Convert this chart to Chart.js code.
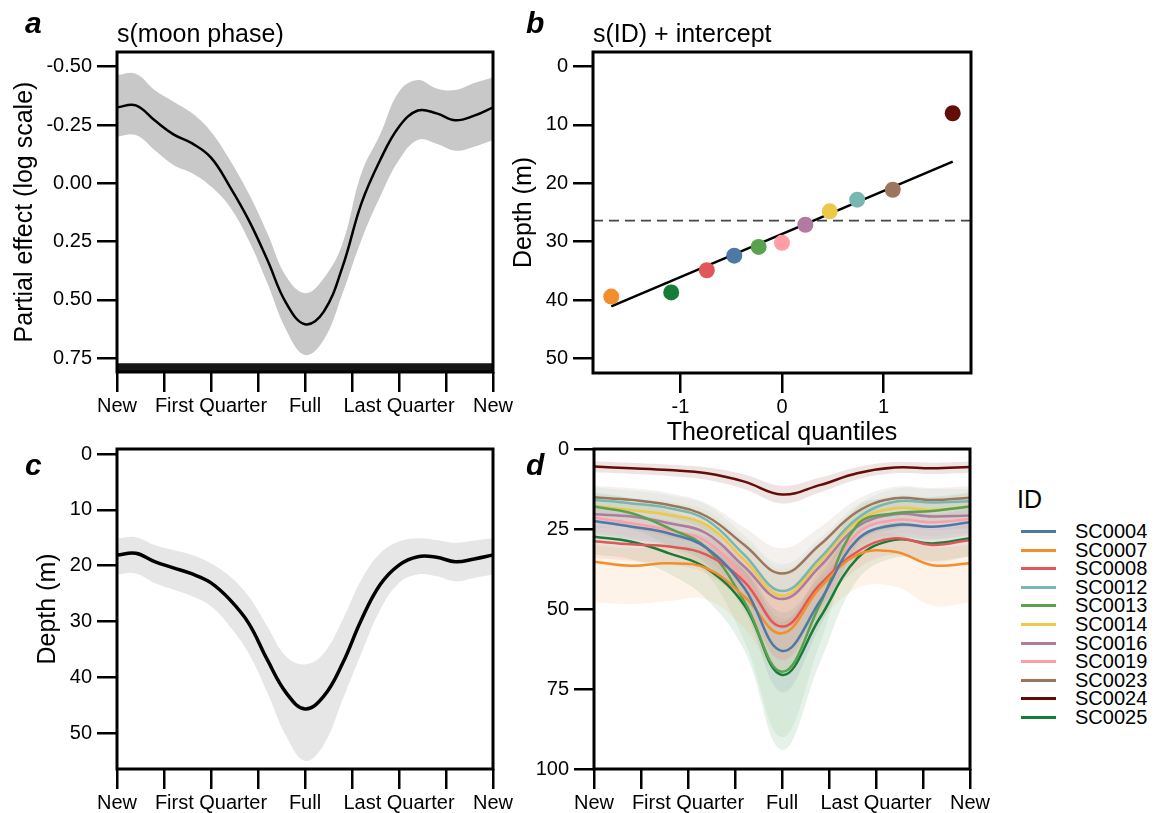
<!DOCTYPE html>
<html>
<head>
<meta charset="utf-8">
<script src="https://cdn.jsdelivr.net/npm/chart.js@4.4.1/dist/chart.umd.min.js"></script>
<style>
  body { margin: 0; background: #fff; }
  #wrap { position: relative; width: 1165px; height: 813px; font-family: "Liberation Sans", Arial, sans-serif; color: #000; }
  canvas { position: absolute; }
  .title { position: absolute; font-size: 25px; line-height: 30px; white-space: nowrap; }
  .letter { position: absolute; font-size: 30px; line-height: 30px; font-weight: bold; font-style: italic; }
  #legend { position: absolute; left: 1017px; top: 484px; }
  #legend .head { font-size: 25px; line-height: 30px; margin-bottom: 8px; }
  #legend .row { position: relative; height: 18.6px; font-size: 20px; line-height: 18.6px; }
  #legend .row span.sw { position: absolute; left: 4px; top: 8px; width: 35px; height: 3px; }
  #legend .row span.tx { position: absolute; left: 58px; top: 0; }
</style>
</head>
<body>
<div id="wrap">
  <canvas id="chartA" width="520" height="420" style="left:0;top:0"></canvas>
  <canvas id="chartB" width="500" height="450" style="left:500px;top:0"></canvas>
  <canvas id="chartC" width="520" height="393" style="left:0;top:420px"></canvas>
  <canvas id="chartD" width="500" height="393" style="left:500px;top:420px"></canvas>
  <div class="letter" style="left:25px;top:8px">a</div>
  <div class="letter" style="left:526px;top:8px">b</div>
  <div class="letter" style="left:25px;top:450px">c</div>
  <div class="letter" style="left:526px;top:450px">d</div>
  <div class="title" style="left:117px;top:18px">s(moon phase)</div>
  <div class="title" style="left:593px;top:18px">s(ID) + intercept</div>
  <div id="legend"><div class="head">ID</div></div>
</div>
<script>
// moon phase grid (0 = new, 0.5 = full, 1 = new)
const phase = [0, 0.05, 0.1, 0.15, 0.2, 0.25, 0.3, 0.35, 0.4, 0.45, 0.5,
               0.55, 0.6, 0.65, 0.7, 0.75, 0.8, 0.85, 0.9, 0.95, 1];
const phaseTicks = [0, 0.125, 0.25, 0.375, 0.5, 0.625, 0.75, 0.875, 1];
const phaseTickLabels = ['New', '', 'First Quarter', '', 'Full', '', 'Last Quarter', '', 'New'];

// panel a: partial effect of moon phase (log scale)
const effectFit = [-0.326, -0.334, -0.27, -0.21, -0.171, -0.11, 0.014, 0.157, 0.329, 0.514, 0.604,
                   0.55, 0.357, 0.086, -0.10, -0.243, -0.312, -0.30, -0.27, -0.29, -0.326];
const effectLo = [-0.464, -0.47, -0.40, -0.35, -0.30, -0.221, -0.10, 0.043, 0.214, 0.40, 0.471,
                  0.407, 0.257, -0.043, -0.21, -0.393, -0.443, -0.407, -0.40, -0.43, -0.454];
const effectHi = [-0.20, -0.207, -0.143, -0.079, -0.043, 0.014, 0.10, 0.243, 0.429, 0.629, 0.736,
                  0.671, 0.471, 0.243, 0.057, -0.10, -0.186, -0.17, -0.14, -0.157, -0.186];
const rugPhase = [0, 1];
const rugTop = [0.772, 0.772];
const rugBottom = [0.81, 0.81];

// panel b: random intercepts vs theoretical quantiles
const qqTheoretical = [-1.68, -1.09, -0.74, -0.47, -0.23, 0, 0.23, 0.47, 0.74, 1.09, 1.68];
const qqDepth = [39.4, 38.7, 34.9, 32.4, 30.9, 30.2, 27.1, 24.8, 22.8, 21.1, 8.0];
const qqIds = ['SC0007', 'SC0025', 'SC0008', 'SC0004', 'SC0013', 'SC0019', 'SC0016', 'SC0014', 'SC0012', 'SC0023', 'SC0024'];
const qqLineX = [-1.68, 1.68];
const qqLineY = [41.1, 16.3];
const interceptX = [-1.86, 1.86];
const interceptDepth = [26.4, 26.4];

// panel c: population depth
const depthFit = [18.1, 17.8, 19.3, 20.4, 21.5, 23.1, 26.1, 30.3, 36.9, 42.8, 45.7,
                  43.4, 37.5, 29.7, 23.4, 19.9, 18.4, 18.5, 19.3, 18.8, 18.1];
const depthLo = [15.1, 14.9, 16.3, 17.2, 18.1, 19.6, 21.9, 25.5, 30.9, 36.3, 37.7,
                 35.7, 29.7, 22.5, 17.8, 15.7, 15.1, 15.4, 15.9, 15.5, 15.1];
const depthHi = [21.6, 21.4, 23.1, 24.3, 25.5, 27.3, 30.9, 35.7, 42.8, 50.6, 55.0,
                 52.1, 44.0, 35.7, 27.9, 23.1, 21.6, 21.9, 22.8, 22.2, 21.6];

// panel d: individual depth curves
const ids = ['SC0004', 'SC0007', 'SC0008', 'SC0012', 'SC0013', 'SC0014', 'SC0016', 'SC0019', 'SC0023', 'SC0024', 'SC0025'];
const colors = ['#4e79a7', '#f28e2b', '#e15759', '#76b7b2', '#59a14f', '#edc948', '#b07aa1', '#ff9da7', '#9c755f', '#640d06', '#177d36'];
const phaseD = [0, 0.1, 0.2, 0.3, 0.4, 0.5, 0.6, 0.7, 0.8, 0.9, 1];
const fitById = [
  [22.5, 24.3, 26.4, 31.0, 43.5, 63.1, 47.7, 28.4, 23.8, 24.3, 22.9], // SC0004
  [35.2, 36.5, 35.7, 37.3, 46.1, 57.6, 43.5, 33.1, 32.1, 36.3, 35.7], // SC0007
  [28.8, 29.8, 30.5, 33.1, 41.5, 55.5, 42.5, 32.1, 27.9, 30.0, 28.4], // SC0008
  [15.9, 17.0, 18.5, 22.2, 33.1, 44.4, 34.2, 21.7, 16.5, 16.7, 16.3], // SC0012
  [18.0, 20.1, 24.8, 31.0, 47.7, 69.6, 48.8, 23.8, 20.1, 19.4, 18.0], // SC0013
  [17.8, 19.1, 20.6, 23.8, 34.7, 45.8, 35.2, 22.7, 18.5, 19.1, 17.8], // SC0014
  [20.4, 21.1, 23.2, 26.4, 36.8, 46.9, 36.8, 24.3, 20.4, 21.1, 20.8], // SC0016
  [21.5, 23.2, 25.3, 29.0, 40.4, 55.5, 43.5, 26.4, 22.2, 22.9, 21.9], // SC0019
  [15.1, 15.9, 17.5, 21.1, 30.0, 38.9, 30.0, 19.6, 15.4, 15.9, 15.2], // SC0023
  [5.5, 6.0, 6.6, 7.6, 10.2, 14.2, 11.3, 7.6, 5.8, 6.0, 5.6],         // SC0024
  [27.4, 29.0, 32.6, 37.3, 48.8, 70.6, 52.9, 34.2, 28.4, 29.5, 27.9]  // SC0025
];
const loById = [
  [18.5, 20.3, 22.4, 26.0, 36.5, 51.0, 39.7, 23.4, 19.8, 20.3, 18.9],
  [30.0, 31.0, 30.5, 31.5, 38.0, 46.0, 35.0, 27.5, 26.5, 30.5, 30.0],
  [24.0, 25.0, 25.5, 27.5, 34.0, 45.0, 35.0, 27.0, 23.0, 25.0, 23.5],
  [12.0, 13.0, 14.5, 17.5, 27.0, 36.0, 28.0, 17.5, 12.5, 12.5, 12.5],
  [13.5, 15.5, 19.5, 24.0, 38.0, 54.0, 38.0, 18.0, 15.5, 15.0, 13.5],
  [14.0, 15.3, 16.5, 19.3, 28.5, 37.5, 29.0, 18.5, 14.5, 15.0, 14.0],
  [16.5, 17.2, 19.0, 22.0, 30.5, 38.5, 30.5, 20.0, 16.5, 17.0, 16.8],
  [17.3, 19.0, 21.0, 24.0, 33.5, 45.5, 35.5, 21.8, 18.0, 18.7, 17.7],
  [11.5, 12.3, 13.8, 17.0, 24.5, 31.0, 24.5, 15.8, 11.8, 12.2, 11.6],
  [3.8, 4.3, 4.9, 5.7, 8.0, 11.5, 9.0, 5.7, 4.1, 4.3, 3.9],
  [22.0, 23.5, 26.5, 30.0, 38.0, 53.0, 41.0, 28.0, 23.0, 24.0, 22.5]
];
const hiById = [
  [26.5, 28.3, 30.4, 36.0, 50.5, 76.0, 55.7, 33.4, 27.8, 28.3, 26.9],
  [48.0, 48.5, 47.5, 47.0, 56.0, 70.0, 54.0, 43.5, 43.0, 49.0, 48.0],
  [34.0, 35.0, 36.0, 39.0, 49.0, 66.0, 50.0, 37.5, 33.0, 35.5, 33.5],
  [20.0, 21.0, 22.5, 27.0, 39.0, 53.0, 40.5, 26.0, 20.5, 21.0, 20.0],
  [23.0, 25.0, 30.5, 39.0, 60.0, 90.0, 61.0, 30.0, 25.0, 24.0, 22.5],
  [21.8, 23.0, 24.8, 28.5, 41.0, 54.5, 41.5, 27.0, 22.5, 23.2, 21.8],
  [24.5, 25.0, 27.5, 31.0, 43.5, 56.0, 43.5, 29.0, 24.5, 25.2, 24.8],
  [25.8, 27.5, 29.8, 34.3, 47.5, 66.0, 51.5, 31.2, 26.5, 27.2, 26.2],
  [18.8, 19.5, 21.3, 25.5, 35.8, 47.0, 35.8, 23.5, 19.0, 19.6, 18.9],
  [7.3, 7.8, 8.4, 9.6, 12.5, 17.0, 13.6, 9.5, 7.6, 7.8, 7.4],
  [33.0, 34.5, 39.0, 47.0, 63.0, 94.0, 67.0, 41.0, 34.0, 35.0, 33.5]
];

Chart.defaults.font.family = '"Liberation Sans", Arial, sans-serif';
Chart.defaults.color = '#000';

const xy = (xs, ys) => xs.map((x, i) => ({ x: x, y: ys[i] }));

const boxPlugin = {
  id: 'box',
  afterDatasetsDraw(chart) {
    const { ctx, chartArea: a } = chart;
    ctx.save();
    ctx.strokeStyle = '#000';
    ctx.lineWidth = 3;
    ctx.strokeRect(a.left, a.top, a.right - a.left, a.bottom - a.top);
    ctx.restore();
  }
};

const tickGrid = { drawOnChartArea: false, drawTicks: true, tickLength: 20, color: '#000', lineWidth: 2.5 };

function phaseAxis(height) {
  return {
    type: 'linear', min: 0, max: 1,
    border: { display: false },
    grid: tickGrid,
    afterBuildTicks: s => { s.ticks = phaseTicks.map(v => ({ value: v })); },
    afterFit: s => { s.height = height; },
    ticks: { autoSkip: false, maxRotation: 0, padding: 2, font: { size: 20 },
             callback: (v, i) => phaseTickLabels[i] }
  };
}

function depthAxis(min, max, step, width, title, titlePad, fmt) {
  return {
    type: 'linear', min: min, max: max, reverse: true,
    border: { display: false },
    grid: tickGrid,
    afterFit: s => { s.width = width; },
    ticks: { stepSize: step, includeBounds: false, padding: 5, font: { size: 20 },
             callback: fmt || (v => v) },
    title: { display: !!title, text: title, font: { size: 25 }, padding: { top: titlePad, bottom: 0 } }
  };
}

function baseOptions(padding, scales, tension) {
  return {
    responsive: false, animation: false, events: [],
    layout: { padding: padding },
    plugins: { legend: { display: false }, tooltip: { enabled: false }, filler: { drawTime: 'beforeDatasetsDraw' } },
    elements: { point: { radius: 0 }, line: { tension: tension } },
    scales: scales
  };
}

// ---- panel a
new Chart(document.getElementById('chartA'), {
  type: 'line',
  data: { datasets: [
    { data: xy(phase, effectFit), borderColor: '#000', borderWidth: 2.5, fill: false },
    { data: xy(phase, effectLo), borderWidth: 0, fill: false },
    { data: xy(phase, effectHi), borderWidth: 0, fill: '-1', backgroundColor: '#c8c8c8' },
    { data: xy(rugPhase, rugTop), borderWidth: 0, fill: false, tension: 0 },
    { data: xy(rugPhase, rugBottom), borderWidth: 0, fill: '-1', backgroundColor: '#151515', tension: 0 }
  ] },
  options: baseOptions({ top: 52, right: 27, left: 0, bottom: 0 }, {
    x: phaseAxis(48),
    y: depthAxis(-0.563, 0.809, 0.25, 117, 'Partial effect (log scale)', 10, v => v.toFixed(2))
  }, 0.4),
  plugins: [boxPlugin]
});

// ---- panel b
const bX = {
  type: 'linear', min: -1.86, max: 1.86,
  border: { display: false },
  grid: tickGrid,
  afterFit: s => { s.height = 77; },
  ticks: { stepSize: 1, includeBounds: false, padding: 2, font: { size: 20 } },
  title: { display: true, text: 'Theoretical quantiles', font: { size: 25 }, padding: { top: 0, bottom: 2 } }
};
new Chart(document.getElementById('chartB'), {
  type: 'scatter',
  data: { datasets: [
    { data: xy(qqTheoretical, qqDepth), pointRadius: 8, borderWidth: 0,
      backgroundColor: qqIds.map(id => colors[ids.indexOf(id)]) },
    { type: 'line', data: xy(qqLineX, qqLineY), borderColor: '#000', borderWidth: 2.5, pointRadius: 0 },
    { type: 'line', data: xy(interceptX, interceptDepth), borderColor: '#444', borderWidth: 1.6,
      borderDash: [10, 6], pointRadius: 0 }
  ] },
  options: baseOptions({ top: 52, right: 29, left: 0, bottom: 0 }, {
    x: bX,
    y: depthAxis(-2.5, 52.5, 10, 93, 'Depth (m)', 9)
  }, 0),
  plugins: [boxPlugin]
});

// ---- panel c
new Chart(document.getElementById('chartC'), {
  type: 'line',
  data: { datasets: [
    { data: xy(phase, depthFit), borderColor: '#000', borderWidth: 3.5, fill: false },
    { data: xy(phase, depthLo), borderWidth: 0, fill: false },
    { data: xy(phase, depthHi), borderWidth: 0, fill: '-1', backgroundColor: '#e6e6e6' }
  ] },
  options: baseOptions({ top: 29, right: 27, left: 0, bottom: 0 }, {
    x: phaseAxis(44),
    y: depthAxis(-0.9, 56.45, 10, 117, 'Depth (m)', 33)
  }, 0.4),
  plugins: [boxPlugin]
});

// ---- panel d
const dSets = [];
ids.forEach((id, k) => {
  dSets.push({ data: xy(phaseD, fitById[k]), borderColor: colors[k], borderWidth: 2.5, fill: false });
});
ids.forEach((id, k) => {
  dSets.push({ data: xy(phaseD, loById[k]), borderWidth: 0, fill: false });
  dSets.push({ data: xy(phaseD, hiById[k]), borderWidth: 0, fill: '-1', backgroundColor: colors[k] + '1c' });
});
new Chart(document.getElementById('chartD'), {
  type: 'line',
  data: { datasets: dSets },
  options: baseOptions({ top: 29, right: 30, left: 0, bottom: 0 }, {
    x: phaseAxis(44),
    y: depthAxis(0, 100, 25, 94, '', 0)
  }, 0.4),
  plugins: [boxPlugin]
});

// ---- legend for panel d
const legend = document.getElementById('legend');
ids.forEach((id, k) => {
  const row = document.createElement('div');
  row.className = 'row';
  row.innerHTML = '<span class="sw" style="background:' + colors[k] + '"></span><span class="tx">' + id + '</span>';
  legend.appendChild(row);
});
</script>
</body>
</html>
